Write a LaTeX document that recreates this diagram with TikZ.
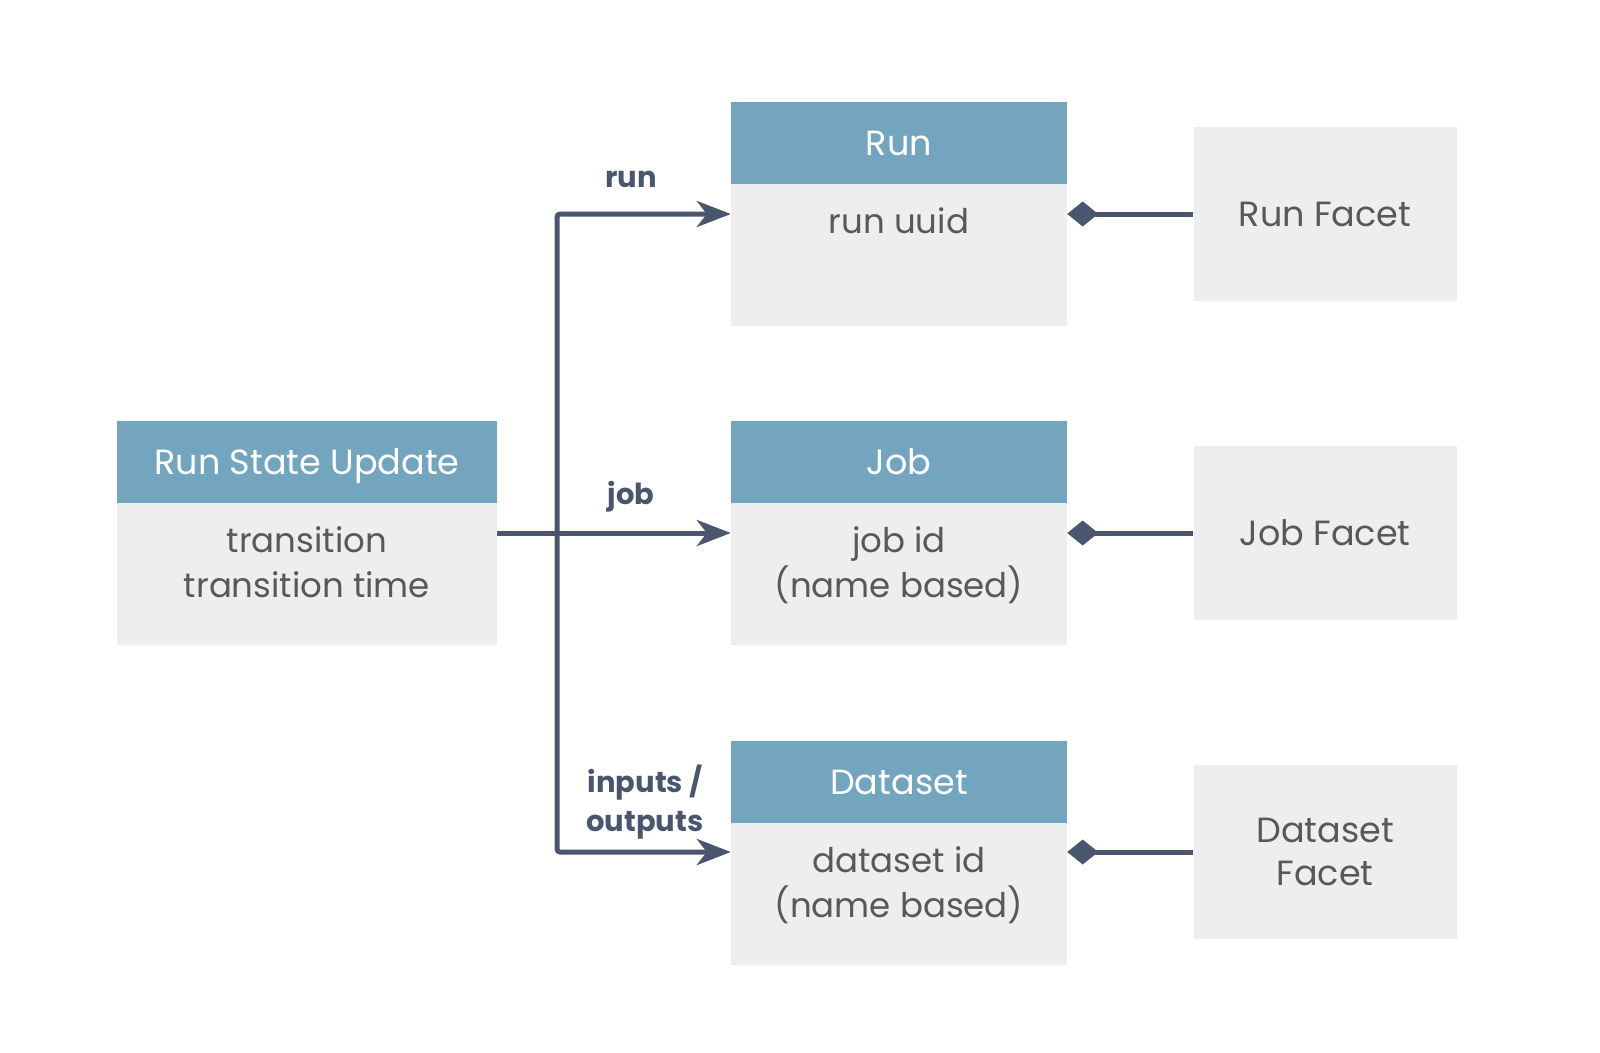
\documentclass[tikz,border=0pt]{standalone}
\usepackage{fontspec}
\setmainfont{Poppins}
\usetikzlibrary{positioning,arrows.meta}
\definecolor{HeadBlue}{RGB}{116,165,190}
\definecolor{BoxGray}{RGB}{238,238,238}
\definecolor{TextGray}{RGB}{88,88,88}
\definecolor{LineSlate}{RGB}{74,86,110}
\tikzset{
	head/.style={fill=HeadBlue,text=white,minimum width=336pt,minimum height=82pt,inner sep=0pt,
		text height=28pt,text depth=3pt,font=\fontsize{35}{40}\selectfont},
	body/.style={fill=BoxGray,minimum width=336pt,minimum height=142pt,inner sep=0pt},
	txt/.style={text=TextGray,align=center,anchor=north,inner sep=0pt,
		font=\fontsize{34}{45}\selectfont},
	facet/.style={fill=BoxGray,text=TextGray,align=center,minimum width=263pt,minimum height=174pt,
		inner sep=0pt,font=\fontsize{35}{43}\selectfont},
	conn/.style={draw=LineSlate,line width=5pt,rounded corners=3pt},
	lbl/.style={text=LineSlate,align=center,inner sep=0pt,font=\bfseries\fontsize{29}{39}\selectfont},
	tip/.style={-{Stealth[length=34pt,width=26pt,inset=10pt]}},
	own/.style={-{Diamond[length=31pt,width=25pt]}},
}

\begin{document}
\begin{tikzpicture}[x=1pt,y=-1pt]
	\useasboundingbox (0,0) rectangle (1600,1052);
	% left box
	\node[head,minimum width=380pt] (rsuhead) at (307,462) {Run State Update};
	\node[body,minimum width=380pt,below=0pt of rsuhead] (rsubody) {};
	\node[txt] (rsutxt) at (307,526) {transition\\transition time};
	% entities
	\node[head] (runhead) at (899,143) {Run};
	\node[body,below=0pt of runhead] (runbody) {};
	\node[txt] (runtxt) at (899,207) {run uuid};
	\node[head] (jobhead) at (899,462) {Job};
	\node[body,below=0pt of jobhead] (jobbody) {};
	\node[txt] (jobtxt) at (899,526) {job id\\(name based)};
	\node[head] (dshead) at (899,782) {Dataset};
	\node[body,below=0pt of dshead] (dsbody) {};
	\node[txt] (dstxt) at (899,846) {dataset id\\(name based)};
	% facets
	\node[facet] (runfacet) at (1325,214) {Run Facet};
	\node[facet] (jobfacet) at (1325,533) {Job Facet};
	\node[facet] (dsfacet) at (1325,852) {Dataset\\Facet};
	% connectors
	\coordinate (split) at (557,533);
	\draw[conn] (rsubody.east |- split) -- (split);
	\draw[conn,tip] (split) -- (jobbody.west |- split);
	\draw[conn,tip] (split) |- (runbody.west |- runfacet.west);
	\draw[conn,tip] (split) |- (dsbody.west |- dsfacet.west);
	\foreach \f/\b in {runfacet/runbody,jobfacet/jobbody,dsfacet/dsbody}
	\draw[conn,own] (\f.west) -- (\b.east |- \f.west);
	% labels
	\node[lbl] (runlbl) at (631,179) {run};
	\node[lbl] (joblbl) at (631,497) {job};
	\node[lbl] (iolbl) at (645,802) {inputs /\\outputs};
\end{tikzpicture}
\end{document}
